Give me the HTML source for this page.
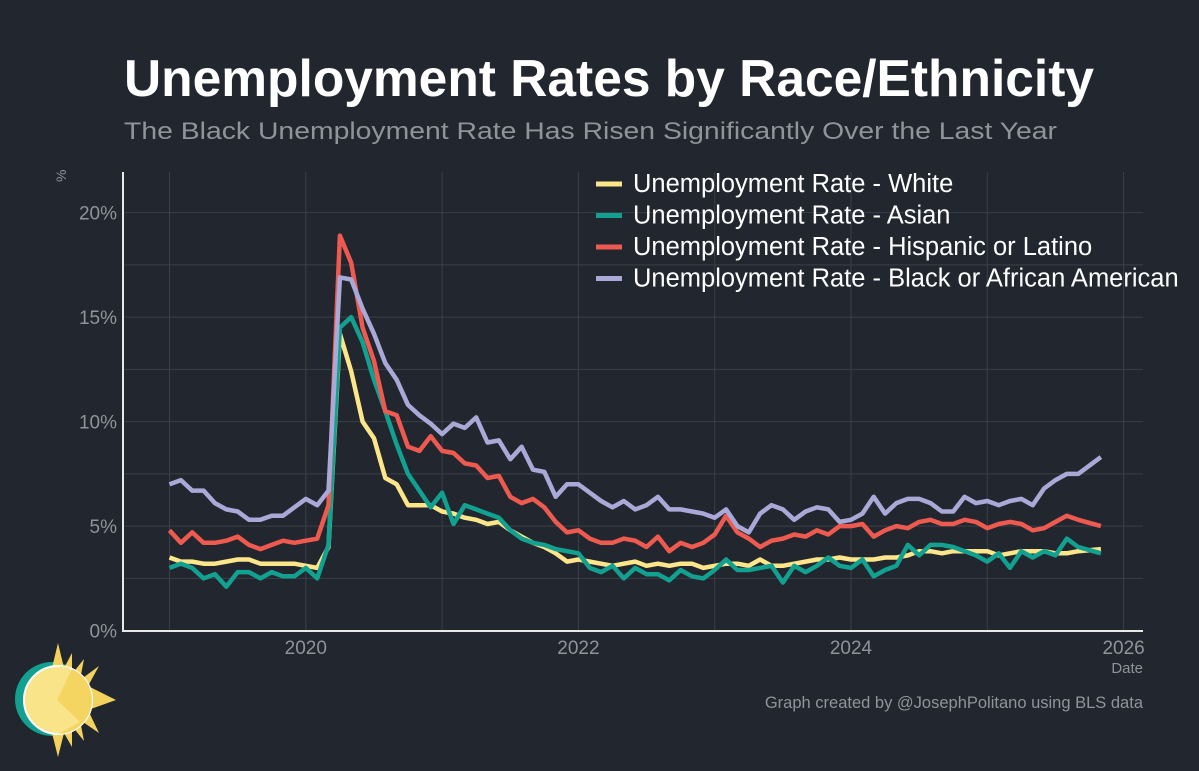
<!DOCTYPE html>
<html><head><meta charset="utf-8"><style>
body{margin:0;background:#22262e;width:1199px;height:766px;overflow:hidden;font-family:"Liberation Sans",sans-serif}
</style></head><body>
<svg width="1199" height="766" xmlns="http://www.w3.org/2000/svg">
<rect width="1199" height="766" fill="#22262e"/>
<text x="124" y="96" font-size="52" font-weight="bold" fill="#ffffff" textLength="970" lengthAdjust="spacingAndGlyphs">Unemployment Rates by Race/Ethnicity</text>
<text x="124" y="139" font-size="24.5" fill="#8f939a" textLength="933" lengthAdjust="spacingAndGlyphs">The Black Unemployment Rate Has Risen Significantly Over the Last Year</text>
<g id="grid"></g>
<g id="ylabels"></g>
<g id="xlabels"></g>
<g id="series"></g>
<line x1="123" y1="172" x2="123" y2="632" stroke="#e8e8e8" stroke-width="2"/>
<line x1="122" y1="631" x2="1143" y2="631" stroke="#e8e8e8" stroke-width="2"/>
<text x="66" y="182" font-size="14" fill="#8f939a" transform="rotate(-90 66 182)">%</text>
<text x="1143" y="673" font-size="15" fill="#8f939a" text-anchor="end">Date</text>
<text x="1143" y="708" font-size="16.5" fill="#8f939a" text-anchor="end">Graph created by @JosephPolitano using BLS data</text>
<g id="legend"></g>
<g>
<circle cx="52" cy="699" r="37" fill="#12a090"/>
<polygon points="58,643 64,668 72,653 72,674 84,659 80,680 99,666 88,686 116,700 88,710 99,733 80,720 84,741 72,726 72,747 64,733 58,757 52,733 60,700 52,668" fill="#f3d35d"/>
<circle cx="58" cy="700" r="34" fill="#fae48a" stroke="#fff" stroke-width="2"/>
<path d="M58,666 A34,34 0 0 1 58,734 L80,722 L57,700 L72,669 Z" fill="#f3d35d" opacity="0.9"/>
</g>
</svg>
<script>
const years=[2019,2020,2021,2022,2023,2024,2025,2026];
const xTickLabels=['2020','2022','2024','2026'];
const yTicks=[0,5,10,15,20];
const white=[3.5,3.3,3.3,3.2,3.2,3.3,3.4,3.4,3.2,3.2,3.2,3.2,3.1,3.0,4.0,14.2,12.4,10.0,9.2,7.3,7.0,6.0,6.0,6.0,5.7,5.6,5.4,5.3,5.1,5.2,4.8,4.5,4.2,4.0,3.7,3.3,3.4,3.3,3.2,3.1,3.2,3.3,3.1,3.2,3.1,3.2,3.2,3.0,3.1,3.2,3.2,3.1,3.4,3.1,3.1,3.2,3.3,3.4,3.4,3.5,3.4,3.4,3.4,3.5,3.5,3.6,3.8,3.8,3.7,3.8,3.8,3.8,3.8,3.6,3.7,3.8,3.8,3.8,3.7,3.7,3.8,null,3.9];
const asian=[3.0,3.2,3.0,2.5,2.7,2.1,2.8,2.8,2.5,2.8,2.6,2.6,3.0,2.5,4.1,14.5,15.0,13.8,12.0,10.5,8.9,7.5,6.7,5.9,6.6,5.1,6.0,5.8,5.6,5.4,4.8,4.4,4.2,4.1,3.9,3.8,3.7,3.0,2.8,3.1,2.5,3.0,2.7,2.7,2.4,2.9,2.6,2.5,2.9,3.4,2.9,2.9,3.0,3.1,2.3,3.1,2.8,3.1,3.5,3.1,3.0,3.4,2.6,2.9,3.1,4.1,3.6,4.1,4.1,4.0,3.8,3.6,3.3,3.7,3.0,3.8,3.5,3.8,3.6,4.4,4.0,null,3.7];
const hispanic=[4.8,4.2,4.7,4.2,4.2,4.3,4.5,4.1,3.9,4.1,4.3,4.2,4.3,4.4,6.0,18.9,17.6,14.5,12.9,10.5,10.3,8.8,8.6,9.3,8.6,8.5,8.0,7.9,7.3,7.4,6.4,6.1,6.3,5.9,5.2,4.7,4.8,4.4,4.2,4.2,4.4,4.3,4.0,4.5,3.8,4.2,4.0,4.2,4.6,5.5,4.7,4.4,4.0,4.3,4.4,4.6,4.5,4.8,4.6,5.0,5.0,5.1,4.5,4.8,5.0,4.9,5.2,5.3,5.1,5.1,5.3,5.2,4.9,5.1,5.2,5.1,4.8,4.9,5.2,5.5,5.3,null,5.0];
const black=[7.0,7.2,6.7,6.7,6.1,5.8,5.7,5.3,5.3,5.5,5.5,5.9,6.3,6.0,6.7,16.9,16.8,15.4,14.2,12.8,12.0,10.8,10.3,9.9,9.4,9.9,9.7,10.2,9.0,9.1,8.2,8.8,7.7,7.6,6.4,7.0,7.0,6.6,6.2,5.9,6.2,5.8,6.0,6.4,5.8,5.8,5.7,5.6,5.4,5.8,5.0,4.7,5.6,6.0,5.8,5.3,5.7,5.9,5.8,5.2,5.3,5.6,6.4,5.6,6.1,6.3,6.3,6.1,5.7,5.7,6.4,6.1,6.2,6.0,6.2,6.3,6.0,6.8,7.2,7.5,7.5,null,8.3];
const seriesNames=['Unemployment Rate - White','Unemployment Rate - Asian','Unemployment Rate - Hispanic or Latino','Unemployment Rate - Black or African American'];
const seriesColors=['#fde68a','#12a090','#ee5a4f','#a9a9d8'];
const NS='http://www.w3.org/2000/svg';
const x0=169.5,yearW=136.3;
function xScale(monthIndex){return x0+monthIndex*yearW/12;}
function yScale(v){return 630.6-v*20.9;}
function mk(tag,attrs,parent){const e=document.createElementNS(NS,tag);for(const k in attrs)e.setAttribute(k,attrs[k]);parent.appendChild(e);return e;}
const grid=document.getElementById('grid');
for(const y of years){const gx=xScale((y-2019)*12);
const l=mk('line',{x1:gx,x2:gx,y1:172,y2:631,stroke:'#3a3f48','stroke-width':1},grid);

}
for(let v=2.5;v<=20;v+=2.5){const gy=yScale(v);
const l=mk('line',{x1:123,x2:1143,y1:gy,y2:gy,stroke:'#3a3f48','stroke-width':1},grid);

}
const yl=document.getElementById('ylabels');
for(const v of yTicks){const t=mk('text',{x:117,y:yScale(v)+7,'font-size':19,fill:'#8f939a','text-anchor':'end'},yl);t.textContent=v+'%';

}
const xl=document.getElementById('xlabels');
for(const s of xTickLabels){const t=mk('text',{x:xScale((+s-2019)*12),y:654,'font-size':19,fill:'#8f939a','text-anchor':'middle'},xl);t.textContent=s;

}
const sg=document.getElementById('series');
[white,asian,hispanic,black].forEach((arr,i)=>{
const pts=[];arr.forEach((v,j)=>{if(v!==null)pts.push(xScale(j).toFixed(1)+','+yScale(v).toFixed(1));});
const p=mk('polyline',{points:pts.join(' '),fill:'none',stroke:seriesColors[i],'stroke-width':4.5,'stroke-linejoin':'round'},sg);


});
const lg=document.getElementById('legend');
seriesNames.forEach((n,i)=>{const y=184+i*31.5;
const l=mk('line',{x1:596,x2:622,y1:y,y2:y,stroke:seriesColors[i],'stroke-width':5},lg);


const t=mk('text',{x:633,y:y+8,'font-size':25.5,fill:'#ffffff'},lg);t.textContent=n;

});
</script>
</body></html>
